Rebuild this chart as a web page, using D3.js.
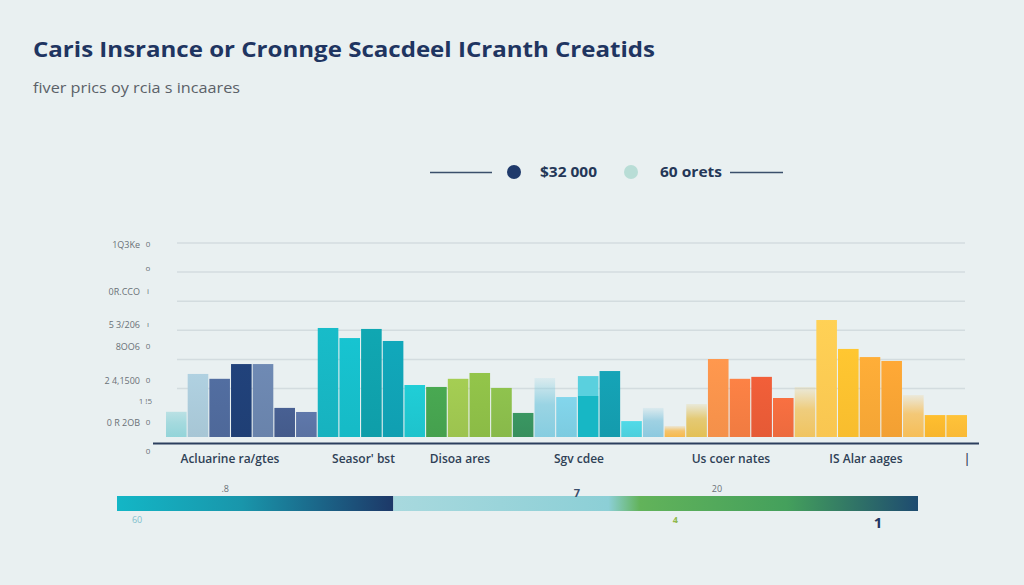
<!DOCTYPE html>
<html>
<head>
<meta charset="utf-8">
<script src="https://cdn.jsdelivr.net/npm/d3@7/dist/d3.min.js"></script>
<style>
  html, body { margin: 0; padding: 0; background: #e9f0f1; }
  svg { display: block; }
</style>
</head>
<body>
<svg id="chart" width="1024" height="585"></svg>
<script>
// ---------------- DATA ----------------
const titleText = "Caris Insrance or Cronnge Scacdeel ICranth Creatids";
const subtitleText = "fiver prics oy rcia s incaares";
const legendLabels = ["$32 000", "60 orets"];

const barValues = [13, 32.5, 30, 37.6, 37.6, 15, 12.9,
                   56.2, 51, 55.7, 49.5, 26.8,
                   25.8, 30, 33, 25.3, 12.4,
                   30.4, 20.6, 31.4, 34, 8.2, 15,
                   5.7, 17, 40.2, 30, 31, 20.1,
                   25.8, 60.3, 45.4, 41.2, 39.2, 21.6, 11.3, 11.3];

const categoryLabels = ["Acluarine ra/gtes", "Seasor' bst", "Disoa ares", "Sgv cdee", "Us coer nates", "IS Alar aages", "|"];
const categoryIndex = [2.95, 9.11, 13.56, 19.05, 26.06, 32.29, 36.95];

const gridValues = [25, 40, 55, 70, 85, 100];

const yTickValues = [99, 86.6, 74.7, 57.7, 46.4, 28.9, 18, 7.2, -7.7];
const yTickLabels = ["1Q3Ke", "", "0R.CCO", "5 3/206", "8OO6", "2 4,1500", "", "0 R 2OB", ""];
const yTickMarks  = ["0", "o", "i", "ı", "0", "0", "1 !5", "0", "0"];

const scaleBarBreak = 34.5;
const scaleTopLabels = [".8", "7", "20"];
const scaleTopValues = [13.5, 57.4, 74.9];
const scaleBottomLabels = ["60", "4", "1"];
const scaleBottomValues = [2.5, 69.7, 95];

// ---------------- STYLE ----------------
const barColors = ["#93d4d9", "#a7c6d5", "#4e6899", "#1f3f75", "#6983ab", "#445b8b", "#5a72a2",
                   "#17b2bf", "#16bac6", "#0f9ea9", "#109fb1", "#1ec3cc",
                   "#45a04e", "#9cc34f", "#8bbb46", "#88b94a", "#378f5d",
                   "#86cde0", "#7ccbe0", "#17b7c5", "#149bad", "#4ccfdc", "#8cc9df",
                   "#f7b94c", "#e3c055", "#f4904a", "#f07b41", "#e55a36", "#ec6a3e",
                   "#f0c460", "#f9c651", "#f8bd2e", "#f4a535", "#f2a033", "#f6be58", "#f7b52d", "#f9b936"];
const fadeBars = new Set([0, 17, 22, 23, 24, 29, 34]);
const splitBars = {19: "#5ad0de"};
const font = "'Open Sans', 'DejaVu Sans', sans-serif";

// ---------------- DRAW ----------------
const svg = d3.select("#chart");
svg.append("rect").attr("width", 1024).attr("height", 585).attr("fill", "#e9f0f1");
const defs = svg.append("defs");

// title
svg.append("text").attr("x", 33).attr("y", 57)
  .attr("font-family", font).attr("font-weight", 700).attr("font-size", 22)
  .attr("fill", "#1f3561").attr("textLength", 622).attr("lengthAdjust", "spacingAndGlyphs")
  .text(titleText);
svg.append("text").attr("x", 33).attr("y", 93)
  .attr("font-family", font).attr("font-size", 15)
  .attr("fill", "#5b6168").attr("textLength", 207).attr("lengthAdjust", "spacingAndGlyphs")
  .text(subtitleText);

// legend
const lg = svg.append("g");
lg.append("line").attr("x1", 430).attr("x2", 492).attr("y1", 172.5).attr("y2", 172.5)
  .attr("stroke", "#3b4f6b").attr("stroke-width", 1.5);
lg.append("circle").attr("cx", 514).attr("cy", 172).attr("r", 7).attr("fill", "#1f3a6b");
lg.append("text").attr("x", 540).attr("y", 177).attr("font-family", font).attr("font-weight", 700)
  .attr("font-size", 14).attr("fill", "#243757").attr("textLength", 57).attr("lengthAdjust", "spacingAndGlyphs")
  .text(legendLabels[0]);
lg.append("circle").attr("cx", 631).attr("cy", 172).attr("r", 7).attr("fill", "#b8ddd6");
lg.append("text").attr("x", 660).attr("y", 177).attr("font-family", font).attr("font-weight", 700)
  .attr("font-size", 14).attr("fill", "#243757").attr("textLength", 62).attr("lengthAdjust", "spacingAndGlyphs")
  .text(legendLabels[1]);
lg.append("line").attr("x1", 730).attr("x2", 783).attr("y1", 172.5).attr("y2", 172.5)
  .attr("stroke", "#3b4f6b").attr("stroke-width", 1.5);

// scales
const y = d3.scaleLinear().domain([0, 100]).range([437, 243]);
const x = d3.scaleBand().domain(d3.range(barValues.length)).range([166, 967]).paddingInner(0.05).paddingOuter(0);
const xIdx = d3.scaleLinear().domain([0, barValues.length])
  .range([x.range()[0], x.range()[0] + barValues.length * x.step()]);

// grid
svg.append("g").selectAll("line").data(gridValues).join("line")
  .attr("x1", 177).attr("x2", 965)
  .attr("y1", d => y(d)).attr("y2", d => y(d))
  .attr("stroke", "#d3dcdf").attr("stroke-width", 1.5);

// y labels
const yl = svg.append("g").attr("font-family", font).attr("fill", "#6a7177");
yl.selectAll("text.l").data(yTickValues).join("text").attr("class", "l")
  .attr("x", 140).attr("y", d => y(d) + 3).attr("text-anchor", "end").attr("font-size", 9)
  .text((d, i) => yTickLabels[i]);
yl.selectAll("text.m").data(yTickValues).join("text").attr("class", "m")
  .attr("x", (d, i) => yTickMarks[i].length > 1 ? 152 : 148).attr("y", d => y(d) + 2)
  .attr("text-anchor", (d, i) => yTickMarks[i].length > 1 ? "end" : "middle").attr("font-size", 8)
  .text((d, i) => yTickMarks[i]);

// gradients for bars
barValues.forEach((v, i) => {
  const c = d3.color(barColors[i]);
  const g = defs.append("linearGradient").attr("id", "g" + i)
    .attr("x1", 0).attr("y1", 0).attr("x2", 0).attr("y2", 1);
  if (fadeBars.has(i)) {
    const top = i === 0 ? 0.55 : 0.15;
    g.append("stop").attr("offset", "0%").attr("stop-color", c.formatHex()).attr("stop-opacity", top);
    g.append("stop").attr("offset", "45%").attr("stop-color", c.formatHex()).attr("stop-opacity", 0.8);
    g.append("stop").attr("offset", "100%").attr("stop-color", c.formatHex()).attr("stop-opacity", 1);
  } else if (splitBars[i]) {
    g.append("stop").attr("offset", "0%").attr("stop-color", splitBars[i]);
    g.append("stop").attr("offset", "33%").attr("stop-color", splitBars[i]);
    g.append("stop").attr("offset", "33%").attr("stop-color", c.formatHex());
    g.append("stop").attr("offset", "100%").attr("stop-color", c.formatHex());
  } else {
    g.append("stop").attr("offset", "0%").attr("stop-color", c.brighter(0.15).formatHex());
    g.append("stop").attr("offset", "100%").attr("stop-color", c.formatHex());
  }
});

// bars
svg.append("g").selectAll("rect").data(barValues).join("rect")
  .attr("x", (d, i) => x(i)).attr("width", x.bandwidth())
  .attr("y", d => y(d)).attr("height", d => y(0) - y(d))
  .attr("fill", (d, i) => `url(#g${i})`);

// axis line
svg.append("line").attr("x1", 153).attr("x2", 979).attr("y1", 443.5).attr("y2", 443.5)
  .attr("stroke", "#2c3f5e").attr("stroke-width", 2);

// category labels
svg.append("g").selectAll("text").data(categoryLabels).join("text")
  .attr("x", (d, i) => xIdx(categoryIndex[i])).attr("y", 463)
  .attr("text-anchor", "middle").attr("font-family", font).attr("font-weight", 600)
  .attr("font-size", 12).attr("fill", "#2f4156")
  .text(d => d);

// bottom scale bar
const sx = d3.scaleLinear().domain([0, 100]).range([117, 918]);
const g1 = defs.append("linearGradient").attr("id", "sb1");
g1.append("stop").attr("offset", "0%").attr("stop-color", "#13b6c6");
g1.append("stop").attr("offset", "45%").attr("stop-color", "#1996ab");
g1.append("stop").attr("offset", "100%").attr("stop-color", "#1d3868");
const g2 = defs.append("linearGradient").attr("id", "sb2");
g2.append("stop").attr("offset", "0%").attr("stop-color", "#a8d9de");
g2.append("stop").attr("offset", "41%").attr("stop-color", "#8ccfd6");
g2.append("stop").attr("offset", "47%").attr("stop-color", "#62b35a");
g2.append("stop").attr("offset", "75%").attr("stop-color", "#44a05c");
g2.append("stop").attr("offset", "100%").attr("stop-color", "#1e4b70");
svg.append("rect").attr("x", sx(0)).attr("width", sx(scaleBarBreak) - sx(0))
  .attr("y", 496).attr("height", 15).attr("fill", "url(#sb1)");
svg.append("rect").attr("x", sx(scaleBarBreak)).attr("width", sx(100) - sx(scaleBarBreak))
  .attr("y", 496).attr("height", 15).attr("fill", "url(#sb2)");

svg.append("g").selectAll("text").data(scaleTopValues).join("text")
  .attr("x", d => sx(d)).attr("y", (d, i) => i === 1 ? 497 : 492).attr("text-anchor", "middle")
  .attr("font-family", font).attr("font-size", (d, i) => i === 1 ? 11 : 9)
  .attr("font-weight", (d, i) => i === 1 ? 700 : 400)
  .attr("fill", (d, i) => i === 1 ? "#3b4f6b" : "#6a7177")
  .text((d, i) => scaleTopLabels[i]);
const bottomColors = ["#7fbfcc", "#8fb84a", "#1f3561"];
svg.append("g").selectAll("text").data(scaleBottomValues).join("text")
  .attr("x", d => sx(d)).attr("y", (d, i) => i === 2 ? 528 : 523).attr("text-anchor", "middle")
  .attr("font-family", font).attr("font-size", (d, i) => i === 2 ? 15 : 9)
  .attr("font-weight", (d, i) => i === 0 ? 400 : 700)
  .attr("fill", (d, i) => bottomColors[i])
  .text((d, i) => scaleBottomLabels[i]);
</script>
</body>
</html>
